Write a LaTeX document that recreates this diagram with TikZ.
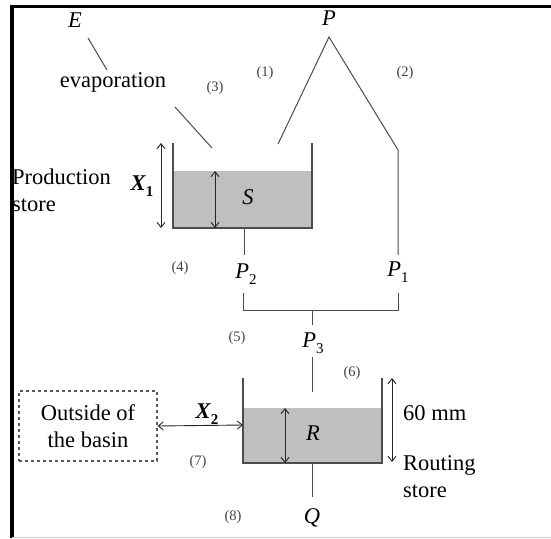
\documentclass[tikz,border=0pt]{standalone}
\usepackage{fontspec}
\setmainfont{Liberation Serif}
\usetikzlibrary{arrows.meta}
\newcommand{\sbs}[1]{\raisebox{-0.25em}{\fontsize{15}{17}\selectfont #1}}
\tikzset{
  ln/.style={draw=black!70, line width=1pt},
  wall/.style={draw=black!70, line width=1.4pt},
  water/.style={fill=black!25, draw=none},
  dbl/.style={{Straight Barb[length=5pt,width=8pt]}-{Straight Barb[length=5pt,width=8pt]}, line width=0.9pt, draw=black!85},
  lbl/.style={font=\fontsize{22.5}{27}\selectfont, inner sep=0pt},
  num/.style={font=\fontsize{14.5}{16}\selectfont, text=black!75, inner sep=0pt},
}
\begin{document}
\begin{tikzpicture}[x=1pt,y=-1pt]
\useasboundingbox (0,0) rectangle (551,538);
% frame
\draw[line width=3.5pt] (12,538) -- (12,6.5);
\draw[line width=3pt] (10.3,6.5) -- (551,6.5);
\draw[black!20, line width=1pt] (12,537) -- (551,537);

% evaporation
\node[lbl] (E) at (75,20) {\textit{E}};
\node[lbl] (evap) at (113,82) {evaporation};
\coordinate (e1) at (88,38);
\coordinate (e2) at (107,70);
\coordinate (e3) at (175,107);
\coordinate (e4) at (212,148);
\draw[ln] (e1) -- (e2);
\draw[ln] (e3) -- (e4);

% precipitation
\node[lbl] (P) at (329,18) {\textit{P}};
\coordinate (apex) at (329,37);
\coordinate (pl) at (278,144);
\coordinate (pr) at (398,150);
\coordinate (prb) at (398,255);
\draw[ln] (pl) -- (apex) -- (pr) -- (prb);

% production store
\coordinate (s1) at (173,143);
\coordinate (s2) at (173,228);
\coordinate (s3) at (312,228);
\coordinate (s4) at (312,143);
\fill[water] (173,171) rectangle (312,228);
\draw[wall] (s1) -- (s2) -- (s3) -- (s4);
\coordinate (si1) at (215,171);
\coordinate (si2) at (215,228);
\draw[dbl] (si1) -- (si2);
\coordinate (so1) at (161,143);
\coordinate (so2) at (161,228);
\draw[dbl] (so1) -- (so2);
\node[lbl] (X1) at (142,186) {\textbf{\textit{X}}\sbs{\textbf{1}}};
\node[lbl] (S) at (248,197) {\textit{S}};
\node[lbl, align=left, anchor=west] (prod) at (12,190) {Production\\store};

% P2, P1, P3
\coordinate (sb) at (244,228);
\coordinate (sb2) at (244,255);
\draw[ln] (sb) -- (sb2);
\node[lbl] (P2) at (246,274) {\textit{P}\sbs{2}};
\node[lbl] (P1) at (398,272) {\textit{P}\sbs{1}};
\coordinate (b1) at (243,293);
\coordinate (b2) at (243,310);
\coordinate (b3) at (398,310);
\coordinate (b4) at (398,293);
\draw[ln] (b1) -- (b2) -- (b3) -- (b4);
\coordinate (t1) at (312,310);
\coordinate (t2) at (312,325);
\draw[ln] (t1) -- (t2);
\node[lbl] (P3) at (313,343) {\textit{P}\sbs{3}};
\coordinate (q1) at (312,357);
\coordinate (q2) at (312,392);
\draw[ln] (q1) -- (q2);

% routing store
\fill[water] (243,408) rectangle (382,463);
\coordinate (r1) at (243,378);
\coordinate (r2) at (243,463);
\coordinate (r3) at (382,463);
\coordinate (r4) at (382,378);
\draw[wall] (r1) -- (r2) -- (r3) -- (r4);
\coordinate (ri1) at (285,408);
\coordinate (ri2) at (285,463);
\draw[dbl] (ri1) -- (ri2);
\node[lbl] (R) at (313,433) {\textit{R}};
\coordinate (rb) at (312,463);
\coordinate (rb2) at (312,497);
\draw[ln] (rb) -- (rb2);
\node[lbl] (Q) at (312,518) {\textit{Q}};
\coordinate (ro1) at (392,378);
\coordinate (ro2) at (392,462);
\draw[dbl] (ro1) -- (ro2);
\node[lbl, anchor=west] (mm) at (403,413) {60 mm};
\node[lbl, align=left, anchor=west] (rout) at (403,477) {Routing\\store};

% outside
\node[lbl, draw=black!65, dashed, line width=1.1pt, minimum width=138pt, minimum height=70pt, align=center] (out) at (88,426) {Outside of\\the basin};
\coordinate (rl) at (243,425);
\draw[dbl] (out.east) -- (rl);
\node[lbl] (X2) at (207,414) {\textbf{\textit{X}}\sbs{\textbf{2}}};

% numbers
\node[num] (n1) at (265,73) {(1)};
\node[num] (n2) at (405,73) {(2)};
\node[num] (n3) at (215,88) {(3)};
\node[num] (n4) at (180,268) {(4)};
\node[num] (n5) at (237,338) {(5)};
\node[num] (n6) at (352,373) {(6)};
\node[num] (n7) at (198,462) {(7)};
\node[num] (n8) at (233,517) {(8)};
\end{tikzpicture}
\end{document}
